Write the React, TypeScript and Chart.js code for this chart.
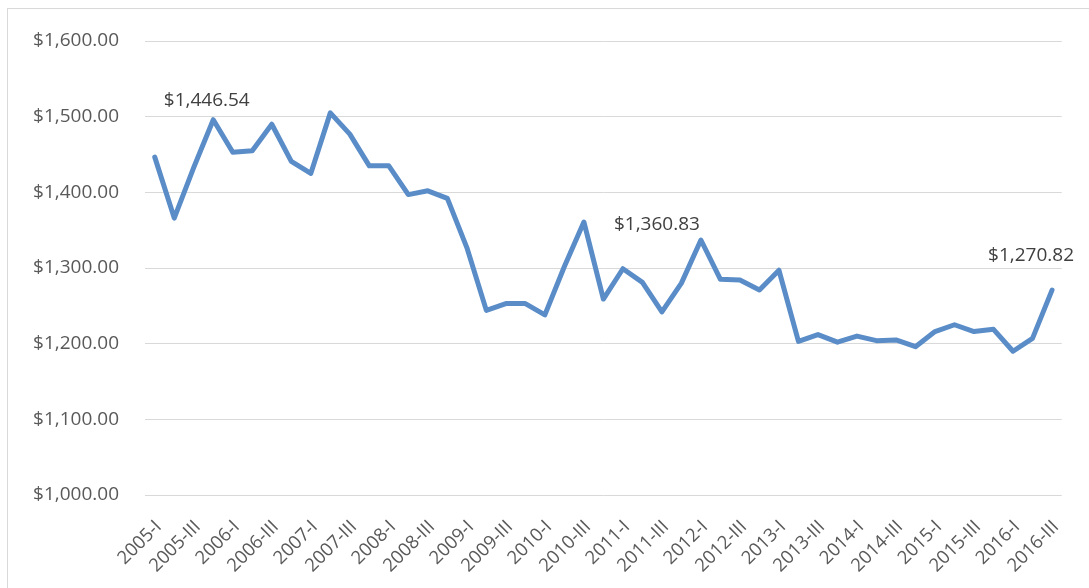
import React, { useEffect, useRef } from "react";
import { Chart, registerables } from "chart.js";

Chart.register(...registerables);

const years = [2005, 2006, 2007, 2008, 2009, 2010, 2011, 2012, 2013, 2014, 2015, 2016];
const quarters = ["I", "II", "III", "IV"];
const categories: string[] = [];
years.forEach((y) => quarters.forEach((q) => categories.push(`${y}-${q}`)));
categories.splice(47);

const values = [
  1446.54, 1366, 1433, 1496, 1453, 1455, 1490, 1441, 1425, 1505, 1477, 1435,
  1435, 1397, 1402, 1392, 1327, 1244, 1253, 1253, 1238, 1302, 1360.83, 1259,
  1299, 1281, 1242, 1280, 1337, 1285, 1284, 1271, 1297, 1203, 1212, 1202,
  1210, 1204, 1205, 1196, 1216, 1225, 1216, 1219, 1190, 1207, 1270.82,
];

const labelledPoints = [0, 22, 46];

const FONT = "'Open Sans', sans-serif";
const FONT_SIZE = 19;
const X_FONT_SIZE = 18.5;

const fmt = (v: number) =>
  "$" + v.toLocaleString("en-US", { minimumFractionDigits: 2, maximumFractionDigits: 2 });

const labelOffsets: Record<number, [number, number]> = {
  0: [52, -57],
  22: [73, 3],
  46: [-21, -34],
};

const dataLabelPlugin = {
  id: "dataLabels",
  afterDatasetsDraw(chart: any) {
    const meta = chart.getDatasetMeta(0);
    const ctx = chart.ctx;
    ctx.save();
    ctx.font = `${FONT_SIZE}px ${FONT}`;
    ctx.fillStyle = "#404040";
    ctx.textAlign = "center";
    ctx.textBaseline = "middle";
    labelledPoints.forEach((i) => {
      const pt = meta.data[i];
      const [dx, dy] = labelOffsets[i];
      ctx.fillText(fmt(values[i]), pt.x + dx, pt.y + dy);
    });
    ctx.restore();
  },
};

export default function App() {
  const ref = useRef<HTMLCanvasElement>(null);
  useEffect(() => {
    if (!ref.current) return;
    const chart = new Chart(ref.current, {
      type: "line",
      data: {
        labels: categories,
        datasets: [
          {
            data: values,
            borderColor: "#5A8DC8",
            borderWidth: 5,
            pointRadius: 0,
            tension: 0,
            borderCapStyle: "round",
            borderJoinStyle: "round",
          },
        ],
      },
      options: {
        animation: false,
        responsive: false,
        maintainAspectRatio: false,
        plugins: { legend: { display: false }, tooltip: { enabled: false } },
        layout: { padding: { left: 0, right: 26, top: 41, bottom: 0 } },
        scales: {
          x: {
            offset: true,
            grid: { display: false, drawTicks: false },
            border: { display: false },
            ticks: {
              autoSkip: false,
              minRotation: 45,
              maxRotation: 45,
              padding: 21,
              labelOffset: 4,
              color: "#595959",
              font: { family: FONT, size: X_FONT_SIZE },
              callback: (_v: any, i: number) => (i % 2 === 0 ? categories[i] : ""),
            },
            afterFit: (s: any) => {
              s.height = 93;
            },
          },
          y: {
            min: 1000,
            max: 1600,
            grid: { color: "#D9D9D9", lineWidth: 1, drawTicks: false },
            border: { display: false },
            ticks: {
              stepSize: 100,
              padding: 26,
              color: "#595959",
              font: { family: FONT, size: FONT_SIZE },
              callback: (v: any) => fmt(Number(v)),
            },
            afterFit: (s: any) => {
              s.width = 145;
            },
          },
        },
      },
      plugins: [dataLabelPlugin],
    });
    return () => chart.destroy();
  }, []);

  return (
    <>
      <div
        style={{
          position: "fixed",
          left: 7,
          top: 8,
          width: 1200,
          height: 700,
          border: "1px solid #D9D9D9",
          background: "#fff",
        }}
      />
      <canvas
        ref={ref}
        width={1089}
        height={588}
        style={{ position: "fixed", left: 0, top: 0, width: 1089, height: 588 }}
      />
    </>
  );
}
